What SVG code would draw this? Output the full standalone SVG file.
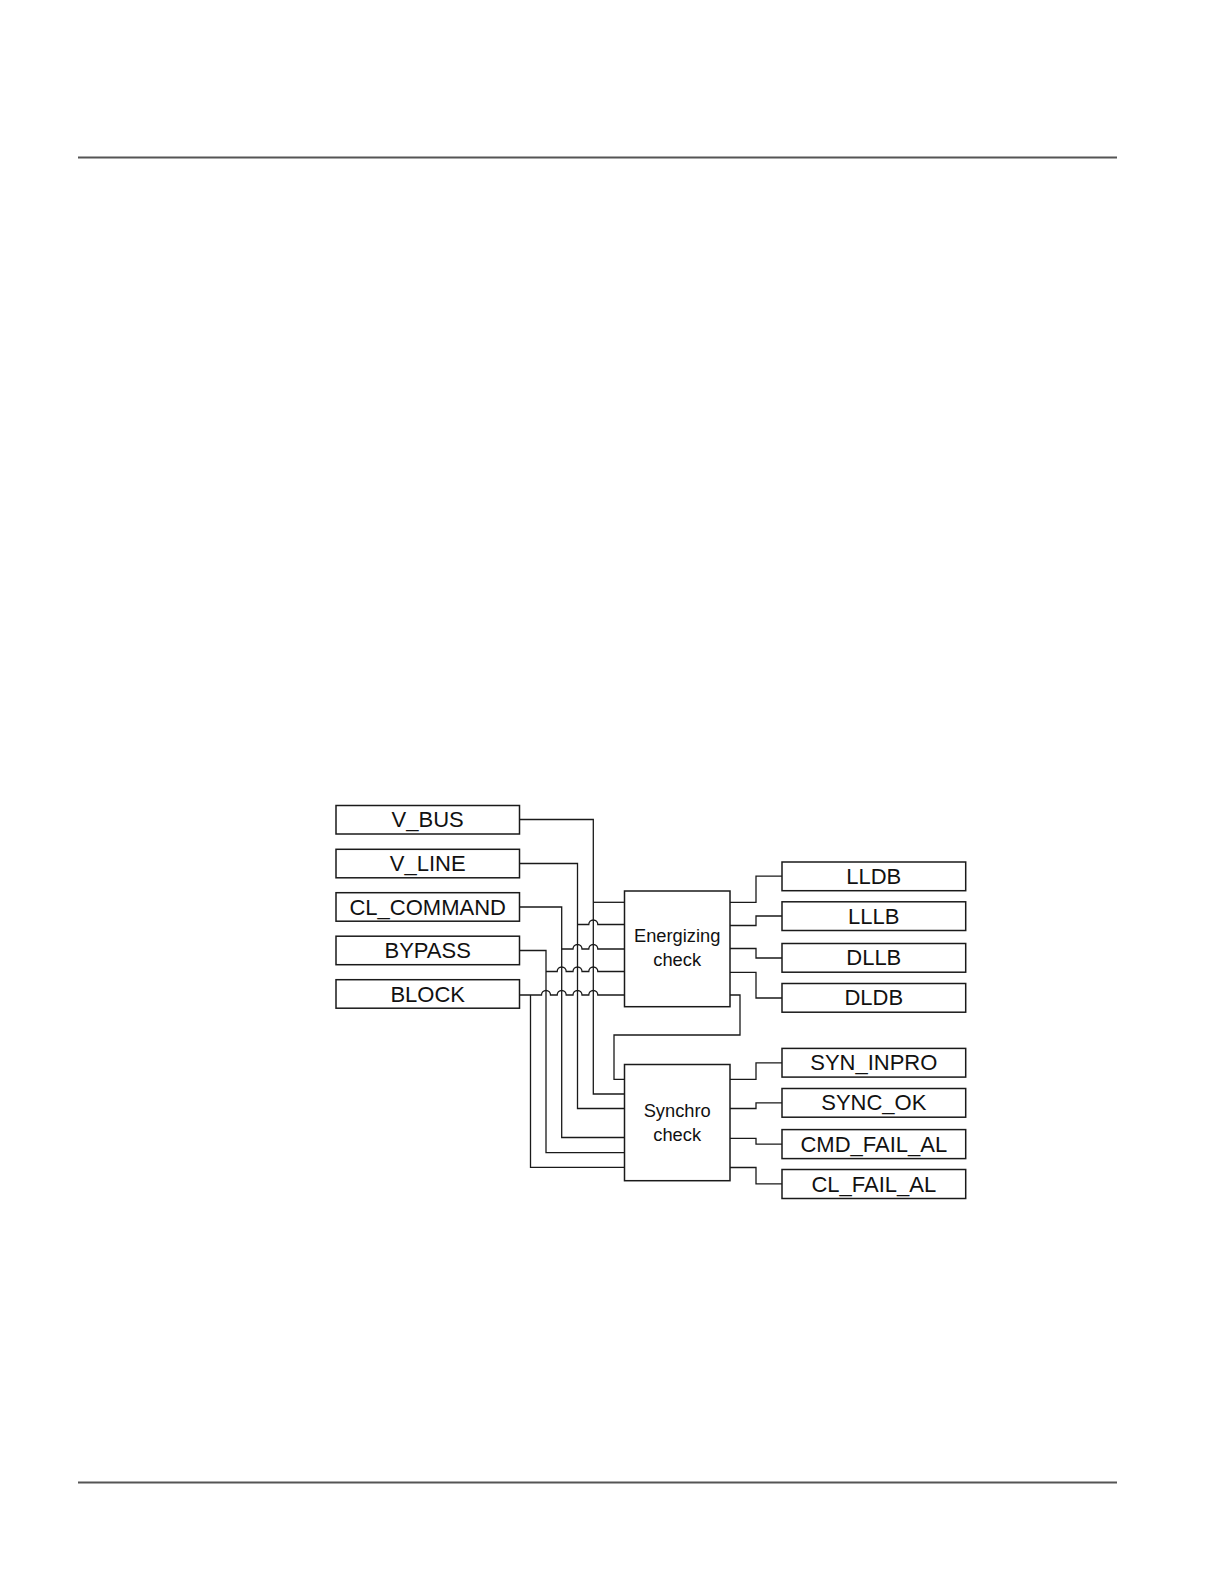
<svg xmlns="http://www.w3.org/2000/svg" width="1224" height="1584" viewBox="0 0 1224 1584">
<style>
.rule{stroke:#555;stroke-width:1.8;fill:none}
.box{fill:#fff;stroke:#1a1a1a;stroke-width:1.5}
.w{fill:none;stroke:#1a1a1a;stroke-width:1.3}
.lbl{font-family:"Liberation Sans",Arial,sans-serif;font-size:22px;fill:#111;text-anchor:middle}
.blk{font-family:"Liberation Sans",Arial,sans-serif;font-size:18.3px;fill:#111;text-anchor:middle}
</style>
<rect width="1224" height="1584" fill="#fff"/>
<line class="rule" x1="78" y1="157.5" x2="1117" y2="157.5"/>
<line class="rule" x1="78" y1="1482.5" x2="1117" y2="1482.5"/>

<g id="connectors">
<!-- V_BUS -->
<path class="w" d="M520,819.5 H593.3 V1094 H624.5"/>
<path class="w" d="M593.3,902.3 H624.5"/>
<!-- V_LINE -->
<path class="w" d="M520,863.5 H577.5 V1108.5 H624.5"/>
<path class="w" d="M577.5,924.5 H588.8 a4.5,4.5 0 0 1 9,0 H624.5"/>
<!-- CL_COMMAND -->
<path class="w" d="M520,907 H561.7 V1137.5 H624.5"/>
<path class="w" d="M561.7,949 H573 a4.5,4.5 0 0 1 9,0 H588.8 a4.5,4.5 0 0 1 9,0 H624.5"/>
<!-- BYPASS -->
<path class="w" d="M520,950.5 H546 V1152.7 H624.5"/>
<path class="w" d="M546,971.5 H557.2 a4.5,4.5 0 0 1 9,0 H573 a4.5,4.5 0 0 1 9,0 H588.8 a4.5,4.5 0 0 1 9,0 H624.5"/>
<!-- BLOCK -->
<path class="w" d="M530.5,995 V1167.3 H624.5"/>
<path class="w" d="M520,995 H541.5 a4.5,4.5 0 0 1 9,0 H557.2 a4.5,4.5 0 0 1 9,0 H573 a4.5,4.5 0 0 1 9,0 H588.8 a4.5,4.5 0 0 1 9,0 H624.5"/>
<!-- feedback -->
<path class="w" d="M730,995 H740 V1035 H614 V1079.3 H624.5"/>
<!-- energizing outputs -->
<path class="w" d="M730,902.3 H756 V876.2 H782"/>
<path class="w" d="M730,925.5 H756 V916 H782"/>
<path class="w" d="M730,948.5 H756 V958 H782"/>
<path class="w" d="M730,972.3 H756 V998 H782"/>
<!-- synchro outputs -->
<path class="w" d="M730,1079.3 H756 V1062.8 H782"/>
<path class="w" d="M730,1108.5 H756 V1102.8 H782"/>
<path class="w" d="M730,1138.3 H756 V1144.2 H782"/>
<path class="w" d="M730,1167.5 H756 V1183.8 H782"/>
</g>

<g id="V_BUS"><rect class="box" x="336" y="805.5" width="183.5" height="28.5"/><text class="lbl" x="427.7" y="827.3">V_BUS</text></g>
<g id="V_LINE"><rect class="box" x="336" y="849.3" width="183.5" height="28.5"/><text class="lbl" x="427.7" y="871.1">V_LINE</text></g>
<g id="CL_COMMAND"><rect class="box" x="336" y="892.7" width="183.5" height="28.5"/><text class="lbl" x="427.7" y="914.5">CL_COMMAND</text></g>
<g id="BYPASS"><rect class="box" x="336" y="936.2" width="183.5" height="28.5"/><text class="lbl" x="427.7" y="958">BYPASS</text></g>
<g id="BLOCK"><rect class="box" x="336" y="979.7" width="183.5" height="28.5"/><text class="lbl" x="427.7" y="1001.5">BLOCK</text></g>

<g id="energizing"><rect class="box" x="624.5" y="891" width="105.5" height="115.7"/><text class="blk" x="677.2" y="941.7">Energizing</text><text class="blk" x="677.2" y="966">check</text></g>
<g id="synchro"><rect class="box" x="624.5" y="1064.5" width="105.5" height="116.2"/><text class="blk" x="677.2" y="1116.7">Synchro</text><text class="blk" x="677.2" y="1140.7">check</text></g>

<g id="LLDB"><rect class="box" x="782" y="862" width="183.7" height="28.7"/><text class="lbl" x="873.8" y="883.8">LLDB</text></g>
<g id="LLLB"><rect class="box" x="782" y="901.8" width="183.7" height="28.7"/><text class="lbl" x="873.8" y="923.6">LLLB</text></g>
<g id="DLLB"><rect class="box" x="782" y="943.5" width="183.7" height="28.7"/><text class="lbl" x="873.8" y="965.3">DLLB</text></g>
<g id="DLDB"><rect class="box" x="782" y="983.5" width="183.7" height="28.7"/><text class="lbl" x="873.8" y="1005.3">DLDB</text></g>
<g id="SYN_INPRO"><rect class="box" x="782" y="1048.4" width="183.7" height="28.7"/><text class="lbl" x="873.8" y="1070.2">SYN_INPRO</text></g>
<g id="SYNC_OK"><rect class="box" x="782" y="1088.5" width="183.7" height="28.7"/><text class="lbl" x="873.8" y="1110.3">SYNC_OK</text></g>
<g id="CMD_FAIL_AL"><rect class="box" x="782" y="1129.6" width="183.7" height="29"/><text class="lbl" x="873.8" y="1151.6">CMD_FAIL_AL</text></g>
<g id="CL_FAIL_AL"><rect class="box" x="782" y="1169.5" width="183.7" height="29"/><text class="lbl" x="873.8" y="1191.5">CL_FAIL_AL</text></g>
</svg>
